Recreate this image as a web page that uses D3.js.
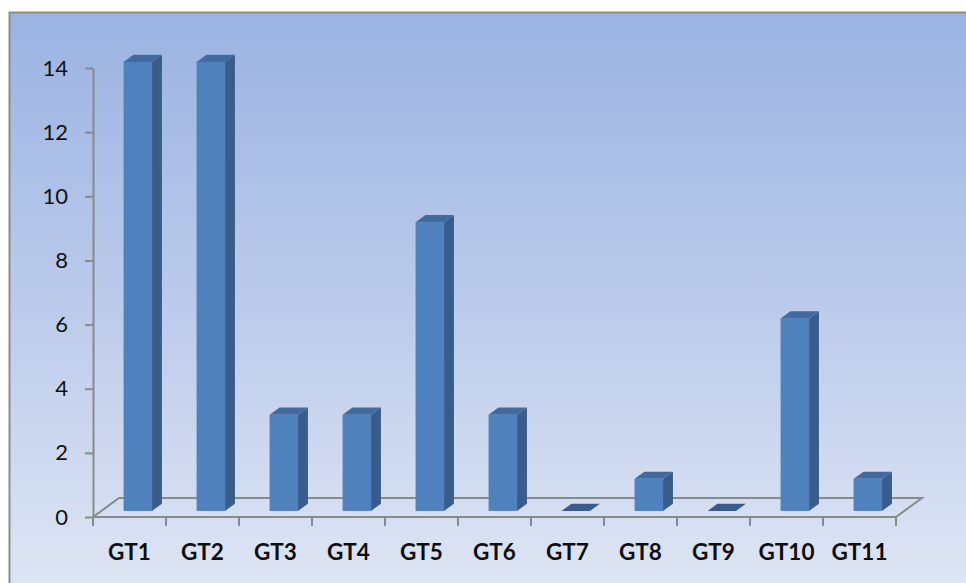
<!DOCTYPE html>
<html><head><meta charset="utf-8">
<script src="https://cdn.jsdelivr.net/npm/d3@7"></script>
<style>html,body{margin:0;padding:0;background:#fff;overflow:hidden}</style>
</head><body>
<svg id="chart" width="966" height="583"></svg>
<script>
const categories = ["GT1","GT2","GT3","GT4","GT5","GT6","GT7","GT8","GT9","GT10","GT11"];
const values = [14,14,3,3,9,3,0,1,0,6,1];
const yTicks = [0,2,4,6,8,10,12,14];

const svg = d3.select("#chart");
const defs = svg.append("defs");
const grad = defs.append("linearGradient").attr("id","bg").attr("x1",0).attr("y1",0).attr("x2",0).attr("y2",1);
grad.append("stop").attr("offset","0%").attr("stop-color","#9ab3e1");
grad.append("stop").attr("offset","50%").attr("stop-color","#bccbeb");
grad.append("stop").attr("offset","100%").attr("stop-color","#e0e7f4");

svg.append("rect").attr("x",9.5).attr("y",12.5).attr("width",980).attr("height",590)
  .attr("fill","url(#bg)").attr("stroke","#8c8c8c").attr("stroke-width",2);

const x0 = 93, x1 = 896, yBase = 517, yTop = 68;
const DX = 26, DY = -19;          // floor depth offset
const dFront = 0.32, dBack = 0.70; // bar depth position

const x = d3.scaleBand().domain(categories).range([x0, x1]).paddingInner(0).paddingOuter(0);
const y = d3.scaleLinear().domain([0,14]).range([yBase, yTop]);
const bw = x.bandwidth();
const barW = bw * 0.39;

const axisColor = "#8a8a8a";
const g = svg.append("g");

// floor
const floor = g.append("g").attr("fill","none").attr("stroke",axisColor).attr("stroke-width",2);
floor.append("path").attr("d",`M${x0},${yBase}L${x0+DX},${yBase+DY}L${x1+DX},${yBase+DY}L${x1},${yBase}`);

// bars
const fx = dFront*DX, fy = dFront*DY, bx = dBack*DX, by = dBack*DY;
const bars = g.append("g").selectAll("g").data(categories.map((c,i)=>({c, v: values[i]}))).join("g");
bars.each(function(d){
  const s = d3.select(this);
  const left = x(d.c) + (bw - barW)/2 + fx;
  const right = left + barW;
  const top = y(d.v) + fy;
  const bot = y(0) + fy;
  const ddx = bx - fx, ddy = by - fy;
  if (d.v > 0) {
    s.append("rect").attr("x",left).attr("y",top).attr("width",barW).attr("height",bot-top).attr("fill","#4f81bd");
    s.append("path").attr("d",`M${right},${top}L${right+ddx},${top+ddy}L${right+ddx},${bot+ddy}L${right},${bot}Z`).attr("fill","#385d8a");
  }
  s.append("path").attr("d",`M${left},${top}L${left+ddx},${top+ddy}L${right+ddx},${top+ddy}L${right},${top}Z`).attr("fill", d.v>0 ? "#3f6ba0" : "#385d8a");
});

// front floor edge + y axis
const ax = g.append("g").attr("stroke",axisColor).attr("stroke-width",2).attr("fill","none");
ax.append("path").attr("d",`M${x0},${yBase}L${x1},${yBase}`);

const yAxis = d3.axisLeft(y).tickValues(yTicks).tickSize(8).tickSizeOuter(0).tickPadding(17).tickFormat(d3.format("d"));
const yg = svg.append("g").attr("transform",`translate(${x0},0)`).call(yAxis);
yg.select(".domain").attr("stroke",axisColor).attr("stroke-width",2);
yg.selectAll(".tick line").attr("stroke",axisColor).attr("stroke-width",2);
yg.selectAll(".tick text").attr("fill","#111").style("font-family","Lato, 'Open Sans', sans-serif").style("font-size","22px");

// x ticks at band boundaries
const bounds = categories.map(c => x(c)).concat([x1]);
ax.selectAll("line.xt").data(bounds).join("line").attr("class","xt")
  .attr("x1",d=>d).attr("x2",d=>d).attr("y1",yBase).attr("y2",yBase+9);

// x labels
svg.append("g").selectAll("text").data(categories).join("text")
  .attr("x", d => x(d) + bw/2).attr("y", 560).attr("text-anchor","middle")
  .attr("fill","#0d0d0d").style("font-family","Lato, 'Open Sans', sans-serif").style("font-size","22.5px").style("font-weight","bold")
  .text(d=>d);
</script>
</body></html>
